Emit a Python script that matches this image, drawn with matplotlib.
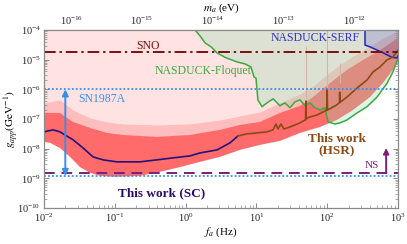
import numpy as np
import matplotlib
matplotlib.use('Agg')
import matplotlib.pyplot as plt
from matplotlib.ticker import LogLocator, NullFormatter, FixedLocator

plt.rcParams['font.family'] = ['Liberation Serif', 'DejaVu Serif']
plt.rcParams['mathtext.fontset'] = 'stix'

# ---------------- data ----------------
# This work (SC) sensitivity curve
sc_f = [0.010, 0.0134, 0.0168, 0.0198, 0.0257, 0.0356, 0.0492, 0.0681, 0.107, 0.149,
        0.227, 0.394, 0.664, 1.15, 1.60, 2.78, 4.24, 5.50]
sc_g = [3.7e-8, 4.3e-8, 3.7e-8, 2.9e-8, 2.0e-8, 1.06e-8, 5.3e-9, 4.2e-9, 3.6e-9, 3.6e-9,
        3.6e-9, 4.2e-9, 4.9e-9, 5.7e-9, 7.2e-9, 9.1e-9, 1.57e-8, 2.7e-8]

# This work (HSR) sensitivity curve
hsr_f = [5.5, 7.36, 10.2, 14.1, 17.2, 18.9, 20.2, 22.2, 24.5, 29.8, 41.3, 49.5, 50.0, 50.5,
         51.9, 71.8, 99.0, 100.0, 101.0, 137, 149, 150, 151, 190, 264, 365, 444, 557, 699,
         849, 1000]
hsr_g = [2.7e-8, 3.15e-8, 3.4e-8, 3.7e-8, 4.3e-8, 6.8e-8, 4.6e-8, 6.8e-8, 4.6e-8, 5.4e-8,
         7.4e-8, 9.5e-8, 4.0e-7, 9.6e-8, 1.09e-7, 1.37e-7, 2.0e-7, 1.0e-6, 2.0e-7, 3.0e-7,
         3.6e-7, 8.0e-7, 3.6e-7, 5.5e-7, 1.11e-6, 2.07e-6, 3.85e-6, 5.7e-6, 9.8e-6, 1.23e-5,
         2.1e-5]

# noise band (upper edge, spike envelope, lower edge)
band_top_f = [0.010, 0.0168, 0.0257, 0.0447, 0.0776, 0.131, 0.394, 1.15, 3.06, 5.86, 11.2,
              21.5, 41.3, 63.0, 110, 190, 321, 557, 1000]
band_top_g = [1.6e-7, 1.6e-7, 8.0e-8, 5.0e-8, 3.4e-8, 2.9e-8, 2.5e-8, 2.9e-8, 4.3e-8, 6.3e-8,
              8.0e-8, 1.6e-7, 2.76e-7, 5.5e-7, 1.64e-6, 4.5e-6, 9.8e-6, 2.1e-5, 5.4e-5]
band_spike_g = [3.5e-7, 4.4e-7, 2.0e-7, 1.09e-7, 8.0e-8, 6.8e-8, 6.3e-8, 6.8e-8, 9.3e-8,
                1.27e-7, 1.73e-7, 3.5e-7, 7.0e-7, 1.3e-6, 3.85e-6, 9.8e-6, 2.1e-5, 4.6e-5,
                1.0e-4]
band_bot_f = [0.010, 0.0122, 0.0168, 0.0233, 0.0322, 0.0447, 0.0618, 0.101, 0.227, 0.434,
              0.834, 1.60, 3.06, 5.86, 11.2, 21.5, 41.3, 79.1, 137, 231, 403, 614, 908, 1000]
band_bot_g = [1.7e-8, 1.57e-8, 1.06e-8, 5.3e-9, 2.4e-9, 1.53e-9, 1.21e-9, 1.12e-9, 1.21e-9,
              1.66e-9, 2.4e-9, 3.6e-9, 5.3e-9, 9.1e-9, 1.34e-8, 1.83e-8, 3.4e-8, 5.4e-8,
              9.3e-8, 2.0e-7, 5.5e-7, 1.64e-6, 5.7e-6, 8.4e-6]

# power-line harmonics spikes (frequency, bottom value, top value)
harm_f = [50, 100, 150]
harm_lo = [2.8e-7, 5.5e-7, 1.6e-6]
harm_g = [3.0e-5, 1.0e-4, 8.0e-6]

# NASDUCK-Floquet
floq_f = [1.36, 1.60, 1.88, 2.29, 2.78, 3.60, 5.32, 6.90, 8.39, 9.25, 9.87, 10.5, 12.0, 14.1,
          17.2, 21.5, 25.3, 29.8, 35.1, 41.3, 48.6, 57.1, 67.3, 79.1, 93.1, 102.6, 128.8,
          151.7, 190.5, 263.7, 364.9, 505, 699, 849, 1000]
floq_g = [1.0e-4, 6.3e-5, 3.7e-5, 2.7e-5, 1.7e-5, 1.2e-5, 8.4e-6, 7.2e-6, 5.7e-6, 2.6e-6,
          2.4e-6, 4.4e-7, 2.6e-7, 3.5e-7, 4.8e-7, 2.8e-7, 3.5e-7, 2.4e-7, 3.8e-7, 4.4e-7,
          2.8e-7, 3.5e-7, 2.4e-7, 2.0e-7, 2.4e-7, 8.0e-8, 6.8e-8, 7.4e-8, 9.3e-8, 1.6e-7,
          2.6e-7, 5.5e-7, 1.6e-6, 3.9e-6, 1.1e-5]

# NASDUCK-SERF
serf_f = [342, 342, 403, 614, 822, 968, 1000]
serf_g = [1.0e-4, 3.1e-5, 2.7e-5, 1.7e-5, 1.2e-5, 1.14e-5, 1.33e-5]

# astrophysical bounds
sno_g = 1.8e-5
sn1987a_upper = 1.0e-6
sn1987a_lower = 1.2e-9
ns_g = 1.5e-9
sn_arrow_f = 0.02
ns_arrow_f = 680
ns_arrow_top = 1.05e-8

# top axis (axion mass) ticks
ma_major = [1e-16, 1e-15, 1e-14, 1e-13, 1e-12]

H_EVS = 4.135667e-15  # Planck constant in eV s

# ---------------- colours ----------------
c_pink = '#FFE3E3'
c_spike = '#FFBDBD'
c_band = '#FF6B6B'
c_green_fill = '#91DFB1'
c_green = '#3DAA3D'
c_serf = '#2222BB'
c_sc = '#23137A'
c_hsr = '#8B4A14'
c_sno = '#7B0F0F'
c_sn = '#3A8EEA'
c_ns = '#7A1F7A'
c_axis = '#8A8A8A'

fig = plt.figure(figsize=(4.07, 2.44), dpi=100)
ax = fig.add_axes([0.1081, 0.1475, 0.8698, 0.7295])
ax.set_xscale('log')
ax.set_yscale('log')
ax.set_xlim(1e-2, 1e3)
ax.set_ylim(1e-10, 1e-4)

# excluded region (this work)
ax.fill_between(band_top_f, band_top_g, 1e-4, color=c_pink, lw=0, zorder=1)
ax.fill_between(band_top_f, band_top_g, band_spike_g, color=c_spike, lw=0, zorder=1.5)
ax.fill(np.r_[band_top_f, band_bot_f[::-1]], np.r_[band_top_g, band_bot_g[::-1]],
        color=c_band, lw=0, zorder=2)
ax.vlines(harm_f, harm_lo, harm_g, color='#F2A0A0', lw=0.8, zorder=2.2)

# NASDUCK-Floquet region
ax.fill_between(floq_f, floq_g, 1e-4, color=c_green_fill, alpha=0.3, lw=0, zorder=3)
# NASDUCK-SERF region
ax.fill_between(serf_f, serf_g, 1e-4, color='#3C3CC8', alpha=0.2, lw=0, zorder=3.2)

# lines
ax.plot(floq_f, floq_g, color=c_green, lw=1.1, zorder=5)
ax.plot(serf_f, serf_g, color=c_serf, lw=1.1, zorder=5)
ax.plot(sc_f, sc_g, color=c_sc, lw=1.2, zorder=6)
ax.plot(hsr_f, hsr_g, color=c_hsr, lw=1.2, zorder=6)

ax.axhline(sno_g, color=c_sno, lw=1.4, ls=(0, (6, 2, 1.2, 2)), zorder=7)
ax.axhline(sn1987a_upper, color=c_sn, lw=1.3, ls=(0, (1, 1.2)), zorder=7)
ax.axhline(sn1987a_lower, color=c_sn, lw=1.3, ls=(0, (1, 1.2)), zorder=7)
ax.axhline(ns_g, color=c_ns, lw=1.4, ls=(0, (5.5, 3.5)), zorder=7)

ax.annotate('', xy=(sn_arrow_f, sn1987a_lower), xytext=(sn_arrow_f, sn1987a_upper),
            arrowprops=dict(arrowstyle='<|-|>', color=c_sn, lw=1.4, mutation_scale=9,
                            shrinkA=0, shrinkB=0), zorder=8)
ax.annotate('', xy=(ns_arrow_f, ns_arrow_top), xytext=(ns_arrow_f, ns_g),
            arrowprops=dict(arrowstyle='-|>', color=c_ns, lw=1.4, mutation_scale=8,
                            shrinkA=0, shrinkB=0), zorder=8)

# labels
ax.text(0.294, 2.9e-5, 'SNO', color=c_sno, fontsize=8.5, ha='center', va='center', zorder=9)
ax.text(0.030, 4.8e-7, 'SN1987A', color=c_sn, fontsize=8.5, ha='left', va='center', zorder=9)
ax.text(1.76, 4.2e-6, 'NASDUCK-Floquet', color=c_green, fontsize=8.5, ha='center',
        va='center', zorder=9)
ax.text(67, 5.4e-5, 'NASDUCK-SERF', color='#3030CC', fontsize=8.5, ha='center',
        va='center', zorder=9)
ax.text(0.46, 3.2e-10, 'This work (SC)', color='#2B0A6B', fontsize=9.5, fontweight='bold',
        ha='center', va='center', zorder=9)
ax.text(137, 1.3e-8, 'This work\n(HSR)', color=c_hsr, fontsize=9.5, fontweight='bold',
        ha='center', va='center', linespacing=1.1, zorder=9)
ax.text(430, 2.8e-9, 'NS', color=c_ns, fontsize=8, ha='center', va='center', zorder=9)

# axes styling
for sp in ax.spines.values():
    sp.set_color(c_axis)
    sp.set_linewidth(0.9)
    sp.set_zorder(10)
ax.xaxis.set_major_locator(LogLocator(base=10, numticks=20))
ax.xaxis.set_minor_locator(LogLocator(base=10, subs=np.arange(2, 10), numticks=20))
ax.xaxis.set_minor_formatter(NullFormatter())
ax.yaxis.set_major_locator(LogLocator(base=10, numticks=20))
ax.yaxis.set_minor_locator(LogLocator(base=10, subs=np.arange(2, 10), numticks=20))
ax.yaxis.set_minor_formatter(NullFormatter())
ax.tick_params(which='both', direction='in', colors=c_axis, labelcolor='#222222',
               labelsize=7.4, right=True, top=False)
ax.tick_params(which='major', length=3.5, width=0.7, pad=2.5)
ax.tick_params(which='minor', length=2, width=0.5)
ax.set_xlabel(r'$f_a$ (Hz)', fontsize=8, labelpad=1)
ax.set_ylabel(r'$g_{app}(\mathrm{GeV}^{-1})$', fontsize=8)
ax.yaxis.set_label_coords(-0.068, 0.5)

sec = ax.secondary_xaxis('top', functions=(lambda f: np.asarray(f) * H_EVS,
                                           lambda m: np.asarray(m) / H_EVS))
lo_m, hi_m = 1e-2 * H_EVS, 1e3 * H_EVS
ma_minor = [k * 10.0 ** e for e in range(-17, -11) for k in range(2, 10)
            if lo_m <= k * 10.0 ** e <= hi_m]
sec.xaxis.set_major_locator(FixedLocator(ma_major))
sec.xaxis.set_minor_locator(FixedLocator(ma_minor))
sec.xaxis.set_minor_formatter(NullFormatter())
sec.tick_params(which='both', direction='in', colors=c_axis, labelcolor='#222222',
                labelsize=7.4)
sec.tick_params(which='major', length=3.5, width=0.7, pad=2)
sec.tick_params(which='minor', length=2, width=0.5)
sec.spines['top'].set_color(c_axis)
sec.set_xlabel(r'$m_a$ (eV)', fontsize=8, labelpad=3)

fig.savefig('out.png', dpi=100)
